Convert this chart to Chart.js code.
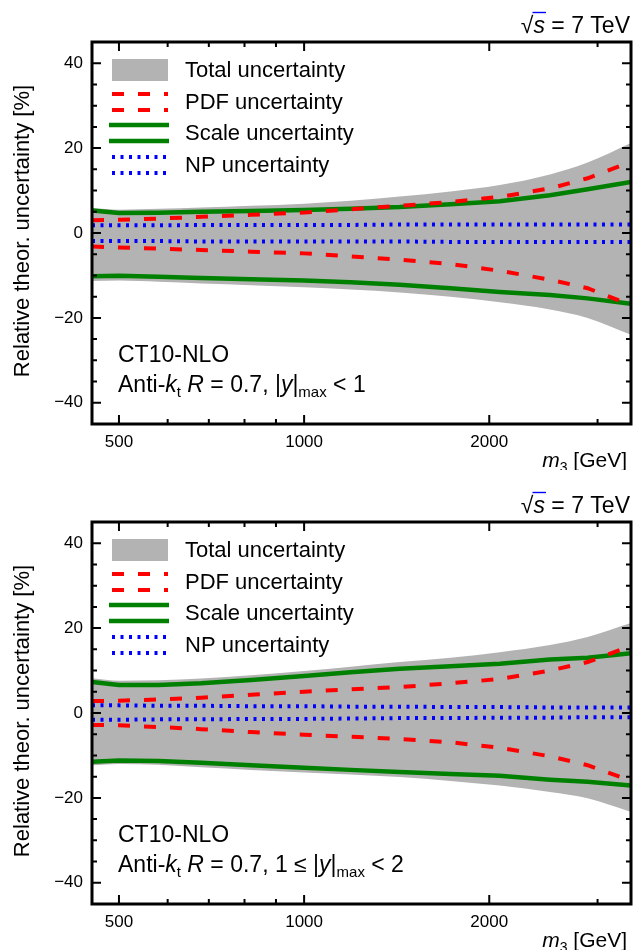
<!DOCTYPE html>
<html><head><meta charset="utf-8">
<script src="https://cdn.jsdelivr.net/npm/chart.js@4.4.0/dist/chart.umd.min.js"></script>
<style>
html,body{margin:0;padding:0;background:#fff;width:642px;height:950px;overflow:hidden}
.box{position:absolute;left:0;width:642px;height:470px}
</style></head><body>
<div class="box" style="top:0"><canvas id="c1"></canvas></div>
<div class="box" style="top:480px"><canvas id="c2"></canvas></div>
<script>
// ---- data ----
const massGeV = [452, 500, 580, 680, 820, 1000, 1190, 1430, 1730, 2080, 2510, 2890, 3400];

// panel 1: |y|max < 1
const totUp1 = [5.9, 5.5, 5.7, 6.0, 6.4, 6.9, 7.6, 8.6, 9.8, 11.3, 13.8, 16.6, 21.2];
const totLo1 = [-11.3, -11.2, -11.5, -11.9, -12.3, -12.8, -13.3, -14.0, -15.0, -16.3, -18.0, -20.0, -24.0];
const pdfUp1 = [3.0, 3.1, 3.4, 3.8, 4.3, 4.8, 5.6, 6.4, 7.3, 8.5, 10.5, 12.9, 16.8];
const pdfLo1 = [-3.2, -3.4, -3.7, -4.0, -4.4, -4.8, -5.5, -6.3, -7.3, -8.9, -11.0, -13.0, -17.0];
const sclUp1 = [5.3, 4.7, 4.8, 5.0, 5.2, 5.4, 5.7, 6.1, 6.8, 7.5, 8.9, 10.3, 12.0];
const sclLo1 = [-10.2, -10.1, -10.3, -10.6, -10.9, -11.2, -11.6, -12.2, -13.0, -13.9, -14.6, -15.4, -16.7];
const npUp1 = [1.8, 1.8, 1.8, 1.9, 1.9, 1.9, 1.9, 2.0, 2.0, 2.0, 2.0, 2.0, 2.0];
const npLo1 = [-1.9, -1.9, -1.9, -2.0, -2.0, -2.0, -2.0, -2.0, -2.1, -2.1, -2.1, -2.1, -2.1];

// panel 2: 1 <= |y|max < 2
const totUp2 = [8.2, 7.6, 7.7, 8.1, 8.9, 9.9, 10.9, 12.0, 13.0, 14.3, 16.0, 17.9, 21.2];
const totLo2 = [-12.3, -12.0, -12.2, -12.8, -13.4, -14.0, -14.5, -15.1, -16.0, -17.1, -18.6, -20.1, -23.3];
const pdfUp2 = [2.8, 2.9, 3.2, 3.6, 4.3, 5.0, 5.6, 6.1, 7.0, 8.0, 10.0, 12.0, 15.8];
const pdfLo2 = [-2.8, -2.9, -3.3, -3.8, -4.5, -5.1, -5.6, -6.1, -6.9, -8.2, -10.2, -12.3, -16.0];
const sclUp2 = [7.3, 6.6, 6.6, 7.0, 7.8, 8.7, 9.6, 10.4, 11.0, 11.6, 12.6, 13.0, 14.1];
const sclLo2 = [-11.5, -11.2, -11.3, -11.7, -12.3, -12.9, -13.4, -13.9, -14.4, -14.8, -15.7, -16.2, -17.1];
const npUp2 = [1.8, 1.8, 1.7, 1.7, 1.6, 1.6, 1.5, 1.5, 1.4, 1.4, 1.3, 1.3, 1.3];
const npLo2 = [-1.6, -1.6, -1.5, -1.5, -1.4, -1.4, -1.3, -1.2, -1.2, -1.1, -1.1, -1.0, -1.0];

// ticks
const xTicks = [500, 600, 700, 800, 900, 1000, 2000, 3000];
const xTickLabels = ['500', '', '', '', '', '1000', '2000', ''];
const xMajor = [500, 1000, 2000];
const yTicks = [-40, -20, 0, 20, 40];
const yMinorStep = 5;

const legendLabels = ['Total uncertainty', 'PDF uncertainty', 'Scale uncertainty', 'NP uncertainty'];
const yTitle = 'Relative theor. uncertainty [%]';

// ---- style ----
const FAM = "'Liberation Sans', Arial, Helvetica, sans-serif";
const GREY = '#b3b3b3', RED = '#ff0000', GREEN = '#008000', BLUE = '#0000ff';
const DASH = [12, 14], DOT = [3, 5.5];

function rich(ctx, segs, x, y, align, size) {
  const f = s => (s === 'i' ? 'italic ' + size + 'px ' : s === 'sub' ? Math.round(size * 0.66) + 'px ' : size + 'px ') + FAM;
  let total = 0;
  const ws = segs.map(([t, s]) => { ctx.font = f(s); const w = ctx.measureText(t).width; total += w; return w; });
  let cx = align === 'right' ? x - total : x;
  const pos = [];
  segs.forEach(([t, s], i) => {
    ctx.font = f(s);
    ctx.fillText(t, cx, s === 'sub' ? y + size * 0.22 : y);
    pos.push([cx, ws[i]]);
    cx += ws[i];
  });
  return pos;
}

function makePlugin(info) {
  return {
    id: 'decor',
    afterDraw(chart) {
      const { ctx, chartArea: a, scales: { x, y } } = chart;
      ctx.save();
      ctx.fillStyle = '#000';
      ctx.strokeStyle = '#000';
      ctx.textBaseline = 'alphabetic';
      // inward ticks on all sides
      ctx.lineWidth = 2;
      ctx.beginPath();
      for (const v of xTicks) {
        const px = x.getPixelForValue(v);
        const L = xMajor.includes(v) ? 9 : 5;
        ctx.moveTo(px, a.bottom); ctx.lineTo(px, a.bottom - L);
        ctx.moveTo(px, a.top); ctx.lineTo(px, a.top + L);
      }
      for (let v = y.min; v <= y.max + 1e-9; v += yMinorStep) {
        if (v <= y.min || v >= y.max) continue;
        const py = y.getPixelForValue(v);
        const L = yTicks.includes(v) ? 9 : 5;
        ctx.moveTo(a.left, py); ctx.lineTo(a.left + L, py);
        ctx.moveTo(a.right, py); ctx.lineTo(a.right - L, py);
      }
      ctx.stroke();
      // frame
      ctx.lineWidth = 3;
      ctx.strokeRect(a.left, a.top, a.right - a.left, a.bottom - a.top);

      // legend
      const lx = a.left + 20, lw = 56, tx = a.left + 93;
      const rows = [a.top + 28, a.top + 60, a.top + 91, a.top + 123];
      ctx.fillStyle = GREY;
      ctx.fillRect(lx, rows[0] - 11, lw, 22);
      const pair = (yc, color, dash, w, x0, x1) => {
        ctx.strokeStyle = color; ctx.lineWidth = w; ctx.setLineDash(dash); ctx.lineCap = 'butt';
        ctx.beginPath();
        ctx.moveTo(x0, yc - 8); ctx.lineTo(x1, yc - 8);
        ctx.moveTo(x0, yc + 8); ctx.lineTo(x1, yc + 8);
        ctx.stroke();
      };
      pair(rows[1], RED, DASH, 4, lx, lx + lw);
      pair(rows[2], GREEN, [], 4.5, lx - 3, lx + lw + 1);
      pair(rows[3], BLUE, DOT, 4, lx, lx + lw);
      ctx.setLineDash([]);
      ctx.fillStyle = '#000';
      ctx.font = '22px ' + FAM;
      ctx.textBaseline = 'middle';
      legendLabels.forEach((t, i) => ctx.fillText(t, tx, rows[i] + 1));
      ctx.textBaseline = 'alphabetic';

      // annotation
      ctx.font = '23px ' + FAM;
      ctx.fillText('CT10-NLO', a.left + 26, a.bottom - 62);
      rich(ctx, info.anti, a.left + 26, a.bottom - 32, 'left', 23);

      // sqrt(s) label
      const p = rich(ctx, [['\u221A', 'n'], ['s', 'i'], [' = 7 TeV', 'n']], a.right - 1, a.top - 9, 'right', 23);
      ctx.lineWidth = 1.4;
      ctx.beginPath();
      ctx.moveTo(p[0][0] + p[0][1] - 1, a.top - 29.5);
      ctx.lineTo(p[1][0] + p[1][1] + 1, a.top - 29.5);
      ctx.stroke();

      // x title
      rich(ctx, [['m', 'i'], ['3', 'sub'], [' [GeV]', 'n']], a.right - 4, a.bottom + 43, 'right', 21);

      // y title
      ctx.save();
      ctx.translate(29, (a.top + a.bottom) / 2 - 2);
      ctx.rotate(-Math.PI / 2);
      ctx.textAlign = 'center';
      ctx.font = '22px ' + FAM;
      ctx.fillText(yTitle, 0, 0);
      ctx.restore();
      ctx.restore();
    }
  };
}

function pts(arr) { return massGeV.map((m, i) => ({ x: m, y: arr[i] })); }

function build(id, d, anti) {
  const line = (data, color, dash, w, order) => ({
    data: pts(data), borderColor: color, borderWidth: w, borderDash: dash, borderCapStyle: 'butt',
    pointRadius: 0, fill: false, tension: 0, order
  });
  const band = (data, fill) => ({
    data: pts(data), backgroundColor: GREY, borderWidth: 0, borderColor: GREY, pointRadius: 0,
    fill, cubicInterpolationMode: 'monotone', order: 10
  });
  new Chart(document.getElementById(id), {
    type: 'line',
    data: {
      datasets: [
        band(d.tu, '+1'),
        band(d.tl, false),
        line(d.nu, BLUE, DOT, 4, 4),
        line(d.nl, BLUE, DOT, 4, 4),
        line(d.su, GREEN, [], 4.5, 3),
        line(d.sl, GREEN, [], 4.5, 3),
        line(d.pu, RED, DASH, 4, 2),
        line(d.pl, RED, DASH, 4, 2)
      ]
    },
    options: {
      responsive: true, maintainAspectRatio: false, animation: false,
      devicePixelRatio: 1,
      layout: { padding: { top: 42, right: 11, left: 0, bottom: 0 } },
      plugins: { legend: { display: false }, tooltip: { enabled: false } },
      scales: {
        x: {
          type: 'logarithmic', min: 452, max: 3400,
          afterBuildTicks: s => { s.ticks = xTicks.map(v => ({ value: v })); },
          afterFit: s => { s.height = 46; },
          grid: { display: false, drawTicks: false }, border: { display: false },
          ticks: {
            autoSkip: false, maxRotation: 0, padding: 8, color: '#000',
            font: { family: FAM, size: 17 },
            callback: v => { const i = xTicks.indexOf(v); return i >= 0 ? xTickLabels[i] : ''; }
          }
        },
        y: {
          min: -45, max: 45,
          afterBuildTicks: s => { s.ticks = yTicks.map(v => ({ value: v })); },
          afterFit: s => { s.width = 92; },
          grid: { display: false, drawTicks: false }, border: { display: false },
          ticks: {
            padding: 9, color: '#000', font: { family: FAM, size: 17 },
            callback: v => v < 0 ? '\u2212' + (-v) : String(v)
          }
        }
      }
    },
    plugins: [makePlugin({ anti })]
  });
}

build('c1', { tu: totUp1, tl: totLo1, pu: pdfUp1, pl: pdfLo1, su: sclUp1, sl: sclLo1, nu: npUp1, nl: npLo1 },
  [['Anti-', 'n'], ['k', 'i'], ['t', 'sub'], [' ', 'n'], ['R', 'i'], [' = 0.7, |', 'n'], ['y', 'i'], ['|', 'n'], ['max', 'sub'], [' < 1', 'n']]);
build('c2', { tu: totUp2, tl: totLo2, pu: pdfUp2, pl: pdfLo2, su: sclUp2, sl: sclLo2, nu: npUp2, nl: npLo2 },
  [['Anti-', 'n'], ['k', 'i'], ['t', 'sub'], [' ', 'n'], ['R', 'i'], [' = 0.7, 1 \u2264 |', 'n'], ['y', 'i'], ['|', 'n'], ['max', 'sub'], [' < 2', 'n']]);
</script>
</body></html>
